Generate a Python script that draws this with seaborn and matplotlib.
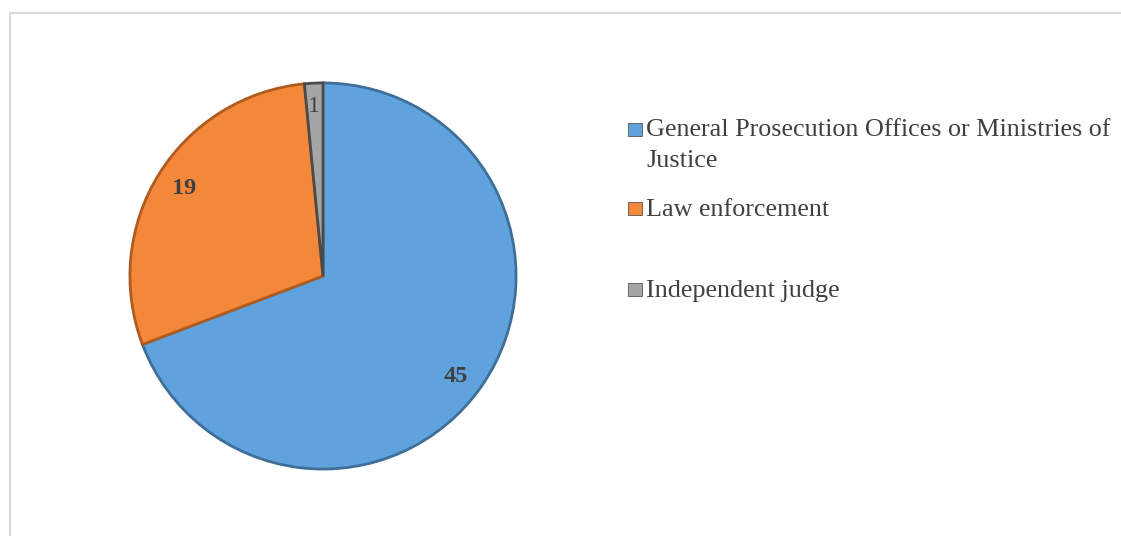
import matplotlib
matplotlib.use("Agg")
import matplotlib.pyplot as plt
import matplotlib.patches as mpatches
import seaborn as sns

categories = ["General Prosecution Offices or Ministries of\nJustice",
              "Law enforcement",
              "Independent judge"]
values = [45, 19, 1]
colors = ["#5fa2dd", "#f4883a", "#a5a5a5"]
edge_colors = ["#3f6f99", "#b05a1e", "#4a4a4a"]

sns.set_theme(style="white")
plt.rcParams["font.family"] = ["Liberation Serif", "DejaVu Serif"]

W, H = 1121, 536
fig = plt.figure(figsize=(W / 100, H / 100), dpi=100)
fig.patch.set_facecolor("white")

# outer frame
fig.add_artist(mpatches.Rectangle((10 / W, -0.05), 1.2, (H - 13) / H + 0.05,
                                  transform=fig.transFigure, fill=False,
                                  edgecolor="#d9d9d9", linewidth=1.5))

cx, cy, r = 323, 276, 195
ax = fig.add_axes([(cx - r) / W, (H - cy - r) / H, 2 * r / W, 2 * r / H])
wedges, _ = ax.pie(values, colors=colors, startangle=90, counterclock=False,
                   wedgeprops=dict(linewidth=2.0))
for w, ec in zip(wedges, edge_colors):
    w.set_edgecolor(ec)
ax.set_xlim(-1.01, 1.01)
ax.set_ylim(-1.01, 1.01)
ax.set_aspect("equal")
ax.axis("off")

label_pos = [(456, 377), (184, 188), (314, 107)]
label_w = ["bold", "bold", "normal"]
for v, (px, py), fw in zip(values, label_pos, label_w):
    fig.text(px / W, 1 - py / H, str(v), ha="center", va="center",
             fontsize=17.5, fontweight=fw, color="#404040")

legend_base = [137, 216, 297]
line_gap = 30
for cat, col, by in zip(categories, colors, legend_base):
    fig.add_artist(mpatches.Rectangle((628 / W, 1 - (by - 1) / H), 14 / W, 13 / H,
                                      transform=fig.transFigure, facecolor=col,
                                      edgecolor="#555555", linewidth=0.6))
    n_extra = cat.count("\n")
    fig.text(646 / W, 1 - (by + n_extra * line_gap) / H, cat, ha="left",
             va="baseline", fontsize=18.8, color="#404040", linespacing=1.5)

fig.savefig("out.png", dpi=100)
